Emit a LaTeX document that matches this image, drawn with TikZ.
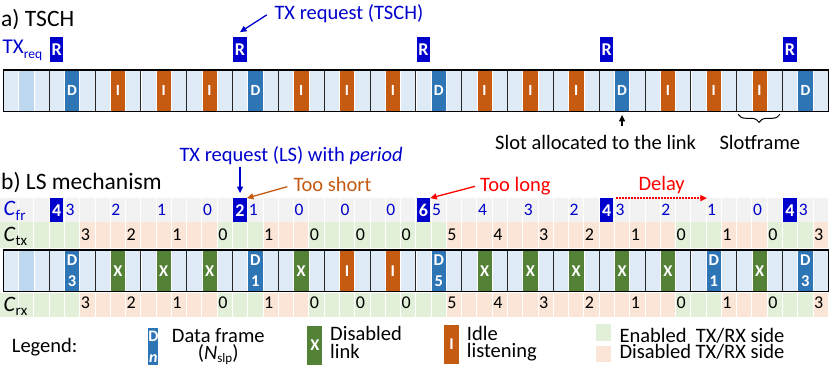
\documentclass[tikz,border=0pt]{standalone}
\usepackage{fontspec}
\setmainfont{Carlito}
\usetikzlibrary{decorations.pathreplacing,arrows.meta}
\definecolor{cbox}{HTML}{0000CC}
\definecolor{cD}{HTML}{2E75B6}
\definecolor{cI}{HTML}{C55A11}
\definecolor{cX}{HTML}{538135}
\definecolor{cLight}{HTML}{DEEBF7}
\definecolor{cMed}{HTML}{BDD7EE}
\definecolor{cGray}{HTML}{F2F2F2}
\definecolor{cGreen}{HTML}{E2F0D9}
\definecolor{cOrange}{HTML}{FBE5D6}
\definecolor{cRed}{HTML}{FF0000}
\newcommand\fsz[1]{\fontsize{#1}{#1}\selectfont}
\newcommand\XO{3.3}
\newcommand\FW{45.8333}
\newcommand\SW{15.2778}
\newcommand\mystrip[1]{%
  \fill[cLight] (\XO,#1) rectangle (\XO+18*\FW,#1+41.7);
  \fill[cMed] (\XO+\SW,#1) rectangle (\XO+2*\SW,#1+41.7);
}
\newcommand\mylines[1]{%
  \foreach \j in {1,...,53} {\draw[sdiv] (\XO+\j*\SW,#1) -- (\XO+\j*\SW,#1+41.7);}
  \foreach \k in {1,...,17} {\draw[framel] (\XO+\k*\FW,#1) -- (\XO+\k*\FW,#1+41.7);}
  \draw[outerl] (\XO,#1) rectangle (\XO+18*\FW,#1+41.7);
}
\begin{document}
\begin{tikzpicture}[x=1pt,y=-1pt,
  slotbox/.style={inner sep=0pt, minimum width=15.28pt, minimum height=41.7pt, text=white, font=\bfseries\fsz{15.5}},
  slotboxb/.style={slotbox, align=center, font=\bfseries\fontsize{16.5}{21.5}\selectfont},
  rbox/.style={fill=cbox, inner sep=0pt, minimum width=13.4pt, minimum height=24.4pt, text=white, font=\bfseries\fsz{18}},
  frdig/.style={anchor=base west, inner sep=0pt, text=cbox, font=\fsz{17.5}},
  cdig/.style={anchor=base west, inner sep=0pt, font=\fsz{18}},
  lbl/.style={anchor=base west, inner sep=0pt, font=\fsz{20.5}},
  lbl2/.style={anchor=base west, inner sep=0pt, align=left, font=\fontsize{20.5}{17.3}\selectfont},
  head/.style={anchor=base west, inner sep=0pt, font=\fsz{23.5}},
  sdiv/.style={white, line width=0.6pt},
  cdiv/.style={white, line width=0.9pt},
  framel/.style={black!85, line width=0.9pt},
  outerl/.style={black, line width=1.1pt},
  arr/.style={-{Triangle[length=6.5pt,width=6pt]}, line width=1.3pt},
  legbox/.style={inner sep=0pt, text=white, font=\bfseries\fsz{16.5}},
]
\useasboundingbox (0,0) rectangle (830,368);

% ---------------- (a) TSCH ----------------
\node[head] (ha) at (1,26.7) {a) TSCH};
\node[lbl, text=cbox, font=\fsz{21}] (txreq) at (2.5,53.3) {TX\raisebox{-5pt}{\fsz{13.5}req}};
\mystrip{70}
\foreach \f in {1,5,9,13,17}
  \node[slotbox, fill=cD] (a\f) at (\XO+\f*\FW+1.5*\SW, 90.85) {D};
\foreach \f in {2,3,4,6,7,8,10,11,12,14,15,16}
  \node[slotbox, fill=cI] (a\f) at (\XO+\f*\FW+1.5*\SW, 90.85) {I};
\mylines{70}
\foreach \f in {1,5,9,13,17}
  \node[rbox] (r\f) at (\XO+\f*\FW+0.5*\SW-0.1, 49.5) {R};

\node[lbl, text=cbox] (txa) at (274.3,19.3) {TX request (TSCH)};
\draw[arr, cbox] ([xshift=-7.5pt,yshift=-1.4pt]txa.west) -- ([yshift=5pt]r5.north);

\node[lbl] (tslot) at (495,149.5) {Slot allocated to the link};
\draw[arr, black] ([yshift=9pt]tslot.north -| a13.south) -- ([yshift=-3pt]a13.south);

\coordinate (brL) at (\XO+16*\FW+1.5,114.3);
\coordinate (brR) at (\XO+17*\FW-2.5,114.3);
\draw[decorate, decoration={brace, mirror, amplitude=8pt}, line width=1pt] (brL) -- (brR);
\node[lbl] (tsf) at (719.3,149.5) {Slotframe};

% ---------------- (b) LS mechanism ----------------
\node[head] (hb) at (1,189) {b) LS mechanism};

\fill[cGray] (0,198.3) rectangle (\XO+18*\FW,222.3);
\fill[cOrange] (0,222.3) rectangle (\XO+18*\FW,248.4);
\fill[cOrange] (0,292.5) rectangle (\XO+18*\FW,316.7);
\fill[cGreen] (0,222.3) rectangle (\XO+5*\SW,248.4);
\fill[cGreen] (0,292.5) rectangle (\XO+5*\SW,316.7);
\foreach \a/\b in {14/17,20/29,44/47,50/53} {
  \fill[cGreen] (\XO+\a*\SW,222.3) rectangle (\XO+\b*\SW,248.4);
  \fill[cGreen] (\XO+\a*\SW,292.5) rectangle (\XO+\b*\SW,316.7);
}
\foreach \j in {1,...,53} {
  \draw[cdiv] (\XO+\j*\SW,198.3) -- (\XO+\j*\SW,248.4);
  \draw[cdiv] (\XO+\j*\SW,292.5) -- (\XO+\j*\SW,316.7);
}

\mystrip{250}
\foreach \f/\n in {1/3,5/1,9/5,15/1,17/3}
  \node[slotboxb, fill=cD] (b\f) at (\XO+\f*\FW+1.5*\SW, 270.85) {D\\\n};
\foreach \f in {2,3,4,6,10,11,12,13,14,16}
  \node[slotbox, fill=cX, font=\bfseries\fsz{16.5}] (b\f) at (\XO+\f*\FW+1.5*\SW, 270.85) {X};
\foreach \f in {7,8}
  \node[slotbox, fill=cI, font=\bfseries\fsz{16.5}] (b\f) at (\XO+\f*\FW+1.5*\SW, 270.85) {I};
\mylines{250}

% C_fr row
\foreach \f/\v in {1/4,5/2,9/6,13/4,17/4}
  \node[rbox, minimum height=24pt] (fr\f) at (\XO+\f*\FW+0.5*\SW-0.1, 210.3) {\v};
\foreach \f/\v in {1/3,2/2,3/1,4/0,5/1,6/0,7/0,8/0,9/5,10/4,11/3,12/2,13/3,14/2,15/1,16/0,17/3}
  \node[frdig] (d\f) at (\XO+\f*\FW+\SW+0.9, 215.5) {\v};
% C_tx and C_rx rows
\foreach \f/\v in {1/3,2/2,3/1,4/0,5/1,6/0,7/0,8/0,9/5,10/4,11/3,12/2,13/1,14/0,15/1,16/0,17/3} {
  \node[cdig] (tx\f) at (\XO+\f*\FW+2*\SW+0.9, 240.5) {\v};
  \node[cdig] (rx\f) at (\XO+\f*\FW+2*\SW+0.9, 308) {\v};
}
\node[lbl, text=cbox, font=\fsz{22}] (lfr) at (3.5,215.7) {\textit{C}\raisebox{-4.3pt}{\fsz{15}fr}};
\node[lbl, font=\fsz{22}] (ltx) at (3.5,241.7) {\textit{C}\raisebox{-3.8pt}{\fsz{15}tx}};
\node[lbl, font=\fsz{22}] (lrx) at (3.5,311.7) {\textit{C}\raisebox{-3.8pt}{\fsz{15}rx}};

% annotations
\node[lbl, text=cbox] (txb) at (179.3,161) {TX request (LS) with \textit{period}};
\draw[arr, cbox] ([yshift=-2pt]txb.south -| fr5.north) -- ([yshift=5pt]fr5.north);
\node[lbl, text=cI] (tshort) at (293.3,191.7) {Too short};
\draw[arr, cI] ([xshift=-6pt,yshift=-2pt]tshort.west) -- (fr5.north east);
\node[lbl, text=cRed] (tlong) at (480,191.7) {Too long};
\draw[arr, cRed] ([xshift=-5pt]tlong.west) -- (fr9.north east);
\node[lbl, text=cRed] (tdelay) at (638.3,190.5) {Delay};
\draw[-{Triangle[length=6.5pt,width=6pt]}, cRed, line width=1.5pt, dash pattern=on 1.5pt off 1.5pt]
  ([xshift=2.5pt]fr13.north east) -- (fr13.north -| d15.west);

% ---------------- Legend ----------------
\node[lbl] (leg) at (11.7,352.3) {Legend:};
\node[legbox, fill=cD, minimum width=10pt, minimum height=36.7pt, align=center, font=\bfseries\fontsize{16}{21}\selectfont] (lgD) at (153.3,346.35) {D\\\textit{n}};
\node[lbl2, align=center] (lgDt) at (171.7,359.7) {Data frame\\(\textit{N}\raisebox{-3pt}{\fsz{13}slp})};
\node[legbox, fill=cX, minimum width=15pt, minimum height=38.7pt] (lgX) at (314.8,345.35) {X};
\node[lbl2] (lgXt) at (330,358) {Disabled\\link};
\node[legbox, fill=cI, minimum width=15.3pt, minimum height=39.3pt] (lgI) at (451.65,344.35) {I};
\node[lbl2] (lgIt) at (466.7,357.3) {Idle\\listening};
\node[fill=cGreen, inner sep=0pt, minimum width=15pt, minimum height=16.7pt] (lgG) at (603.5,332.35) {};
\node[fill=cOrange, inner sep=0pt, minimum width=15pt, minimum height=16pt] (lgO) at (603.5,354.3) {};
\node[lbl2, font=\fontsize{20.5}{16.5}\selectfont] (lgEt) at (619.3,358.5) {Enabled\ \ TX/RX side\\Disabled TX/RX side};
\end{tikzpicture}
\end{document}
